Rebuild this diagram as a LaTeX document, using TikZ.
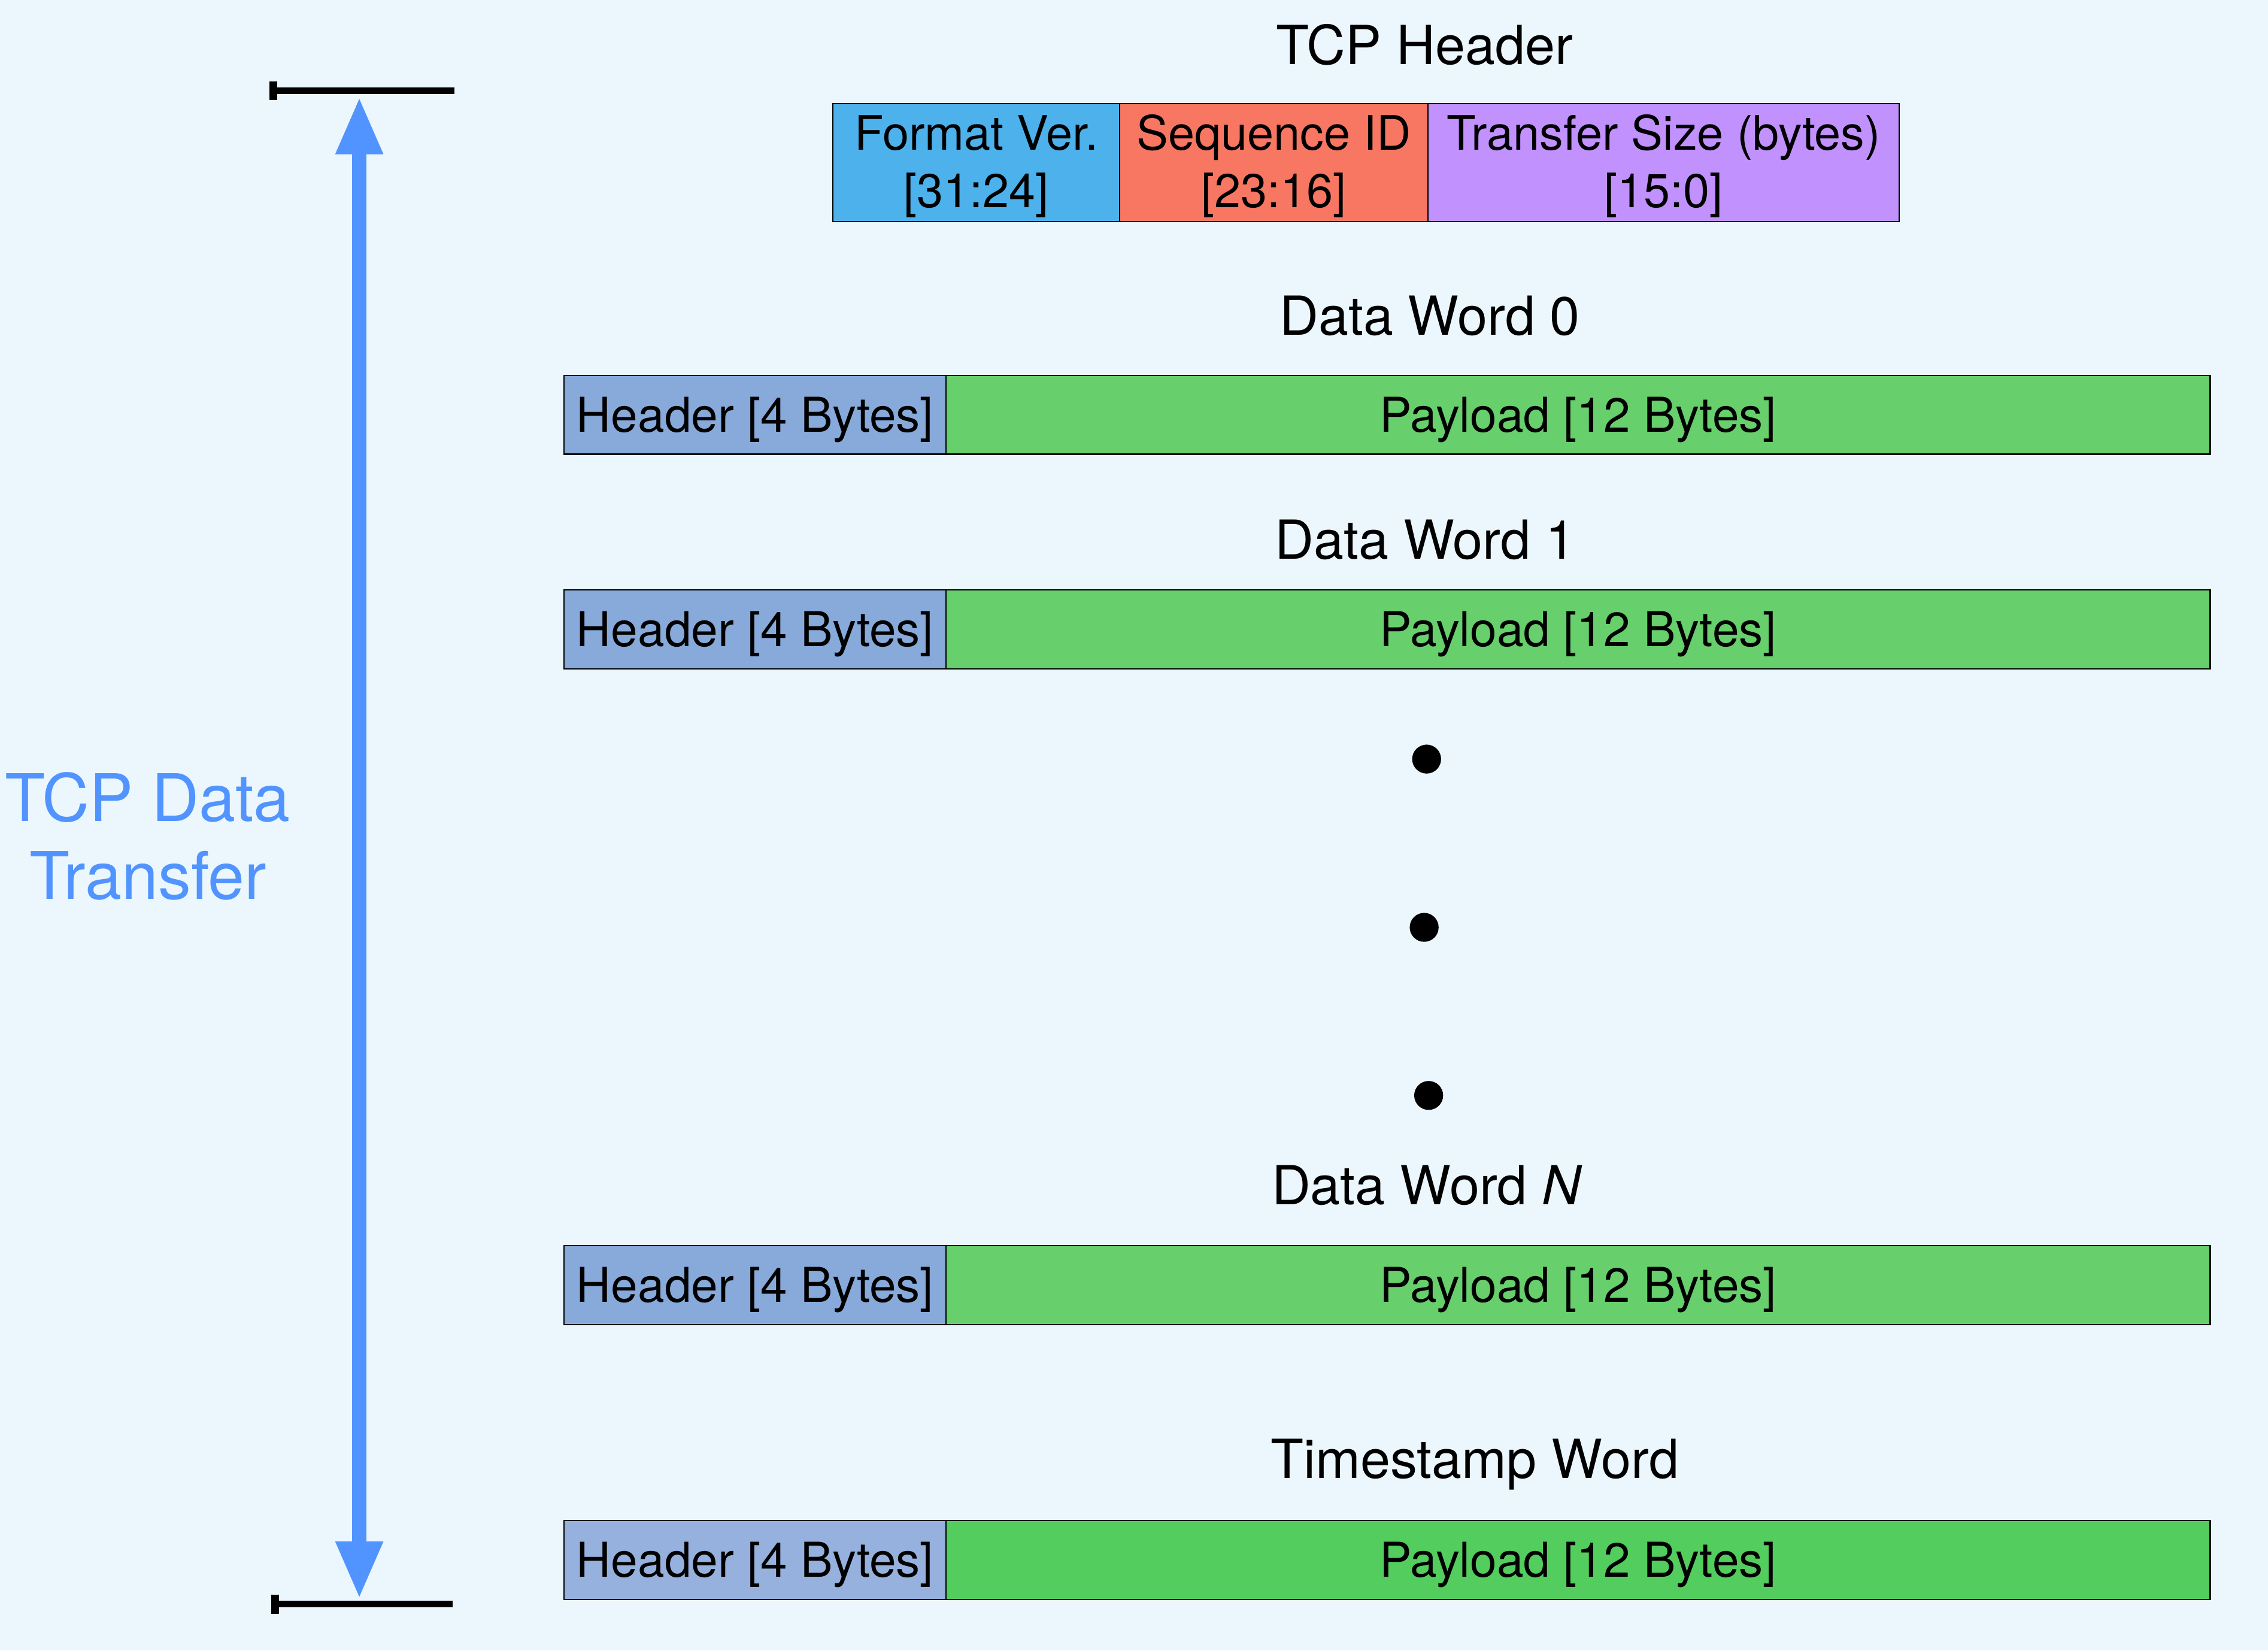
\documentclass[tikz,border=0pt]{standalone}
\usepackage{fontspec}
\setmainfont{TeX Gyre Heros}
\usetikzlibrary{arrows.meta}
\definecolor{bg}{HTML}{EBF7FD}
\definecolor{fmtc}{HTML}{4DB1EC}
\definecolor{seqc}{HTML}{F87762}
\definecolor{sizec}{HTML}{C191FD}
\definecolor{hdrc}{HTML}{87AADB}
\definecolor{payc}{HTML}{67CF6B}
\definecolor{thdrc}{HTML}{96B1DE}
\definecolor{tpayc}{HTML}{53CD5D}
\definecolor{arrc}{HTML}{5294FF}
\begin{document}
\begin{tikzpicture}[x=0.5pt,y=-0.5pt,
  cell/.style={draw=black,line width=0.45pt,inner sep=0pt,minimum height=27.3pt,
    text height=11.95pt,text depth=0pt,font=\fontsize{16.6}{19.85}\selectfont},
  hcell/.style={draw=black,line width=0.45pt,inner sep=0pt,minimum height=40.75pt},
  htext/.style={inner sep=0pt,anchor=base,font=\fontsize{16.4}{19.85}\selectfont},
  title/.style={inner sep=0pt,anchor=base,font=\fontsize{18.6}{22}\selectfont},
  side/.style={inner sep=0pt,anchor=base,text=arrc,font=\fontsize{22.7}{27}\selectfont},
  dot/.style={circle,fill=black,inner sep=0pt,minimum size=10pt},
  barline/.style={line width=2.28pt},
  barend/.style={line width=2.6pt},
  span/.style={arrc,line width=5pt,{Triangle[length=20pt,width=15pt]}-{Triangle[length=20pt,width=15pt]}}
]
\fill[bg] (0,0) rectangle (1568,1141);
\useasboundingbox (0,0) rectangle (1568,1141);

% TCP header
\node[title] (ttcp) at (985,44.4) {TCP Header};
\node[hcell,fill=fmtc,minimum width=99.05pt] (fmt) at (675,112.45) {};
\node[hcell,fill=seqc,minimum width=106.7pt] (seq) at (880.7,112.45) {};
\node[hcell,fill=sizec,minimum width=162.8pt] (tsz) at (1150.2,112.45) {};
\node[htext] (fmta) at (675,103.8) {Format Ver.};
\node[htext] (fmtb) at (675,143.5) {[31:24]};
\node[htext] (seqa) at (880.7,103.8) {Sequence ID};
\node[htext] (seqb) at (880.7,143.5) {[23:16]};
\node[htext] (tsza) at (1150.2,103.8) {Transfer Size (bytes)};
\node[htext] (tszb) at (1150.2,143.5) {[15:0]};

% Data word 0
\node[title] (tw0) at (988.5,231.5) {Data Word 0};
\node[cell,fill=hdrc,minimum width=132pt] (h0) at (522,286.7) {Header [4 Bytes]};
\node[cell,fill=payc,minimum width=437pt] (p0) at (1091,286.7) {Payload [12 Bytes]};

% Data word 1
\node[title] (tw1) at (985.5,386.5) {Data Word 1};
\node[cell,fill=hdrc,minimum width=132pt] (h1) at (522,435) {Header [4 Bytes]};
\node[cell,fill=payc,minimum width=437pt] (p1) at (1091,435) {Payload [12 Bytes]};

% dots
\node[dot] (d1) at (986.3,524.7) {};
\node[dot] (d2) at (984.6,641) {};
\node[dot] (d3) at (987.7,757.2) {};

% Data word N
\node[title] (twn) at (986.7,832.7) {Data Word \textit{N}};
\node[cell,fill=hdrc,minimum width=132pt] (hn) at (522,888.3) {Header [4 Bytes]};
\node[cell,fill=payc,minimum width=437pt] (pn) at (1091,888.3) {Payload [12 Bytes]};

% Timestamp word
\node[title] (tts) at (1019.6,1021.7) {Timestamp Word};
\node[cell,fill=thdrc,minimum width=132pt] (hts) at (522,1078.3) {Header [4 Bytes]};
\node[cell,fill=tpayc,minimum width=437pt] (pts) at (1091,1078.3) {Payload [12 Bytes]};

% side label
\node[side] (sa) at (102,567.5) {TCP Data};
\node[side] (sb) at (102.3,621.7) {Transfer};

% span arrow and bars
\coordinate (atop) at (248.4,66.6);
\coordinate (abot) at (248.4,1105.5);
\draw[span] (atop) -- (abot);
\coordinate (bt1) at (186.3,62.7);
\coordinate (bt2) at (314,62.7);
\draw[barline] (bt1) -- (bt2);
\draw[barend] ([xshift=1.3pt,yshift=3.3pt]bt1) -- ([xshift=1.3pt,yshift=-3.3pt]bt1);
\coordinate (bb1) at (187.5,1108.8);
\coordinate (bb2) at (313,1108.8);
\draw[barline] (bb1) -- (bb2);
\draw[barend] ([xshift=1.3pt,yshift=3.3pt]bb1) -- ([xshift=1.3pt,yshift=-3.3pt]bb1);
\end{tikzpicture}
\end{document}
